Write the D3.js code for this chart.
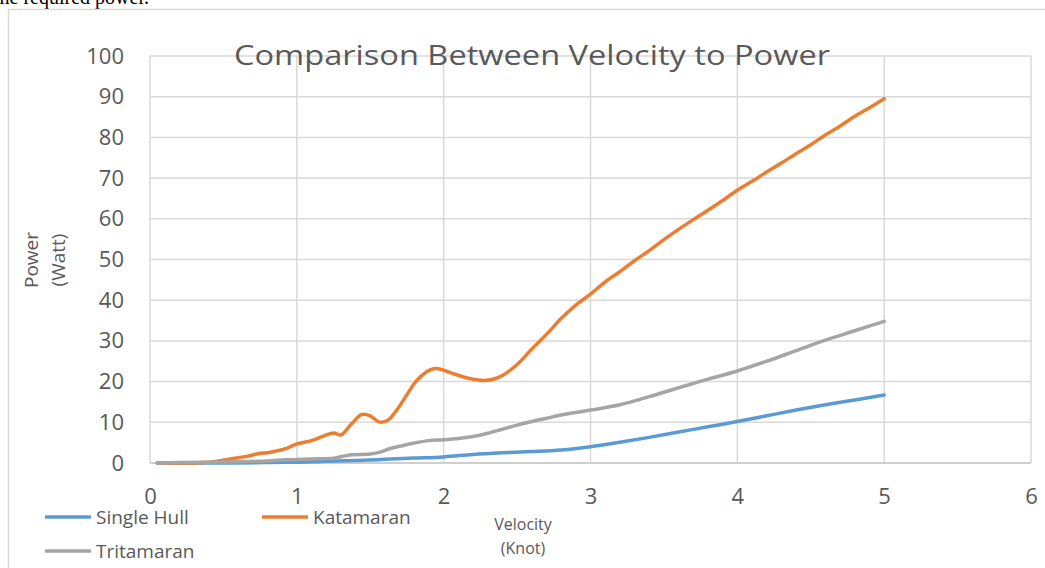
<!DOCTYPE html>
<html>
<head>
<meta charset="utf-8">
<script src="https://cdn.jsdelivr.net/npm/d3@7"></script>
<style>
  body { margin: 0; background: #fff; }
  svg { display: block; }
</style>
</head>
<body>
<svg id="chart"></svg>
<script>
// values
var hullV = [0.05, 0.4, 0.8, 1.0, 1.2, 1.4, 1.6, 1.8, 2.0, 2.2, 2.4, 2.6, 2.8, 3.0, 3.2, 3.4, 3.6, 3.8, 4.0, 4.2, 4.4, 4.6, 4.8, 5.0];
var hullP = [0, 0, 0.1, 0.2, 0.4, 0.6, 0.9, 1.2, 1.5, 2.1, 2.5, 2.8, 3.2, 4.0, 5.1, 6.3, 7.6, 8.9, 10.2, 11.6, 13.0, 14.3, 15.5, 16.7];

var kataV = [0.05, 0.2, 0.4, 0.5, 0.6, 0.68, 0.75, 0.8, 0.87, 0.93, 1.0, 1.1, 1.18, 1.25, 1.3, 1.37, 1.44, 1.5, 1.56, 1.62, 1.68, 1.75, 1.81, 1.88, 1.94, 2.0, 2.06, 2.13, 2.2, 2.27, 2.33, 2.4, 2.5, 2.6, 2.7, 2.8, 2.9, 3.0, 3.1, 3.2, 3.3, 3.4, 3.5, 3.6, 3.7, 3.8, 3.9, 4.0, 4.1, 4.2, 4.3, 4.4, 4.5, 4.6, 4.7, 4.8, 4.9, 5.0];
var kataP = [0, 0, 0.2, 0.7, 1.3, 1.8, 2.4, 2.5, 3.0, 3.6, 4.7, 5.5, 6.6, 7.4, 6.9, 9.5, 11.9, 11.6, 10.1, 10.5, 13.0, 16.8, 20.0, 22.3, 23.2, 22.8, 22.0, 21.2, 20.6, 20.3, 20.5, 21.5, 24.2, 28.0, 31.6, 35.5, 38.8, 41.5, 44.5, 47.0, 49.7, 52.2, 54.9, 57.4, 59.8, 62.1, 64.5, 67.0, 69.2, 71.5, 73.7, 76.0, 78.2, 80.6, 82.8, 85.2, 87.3, 89.5];

var triV = [0.05, 0.2, 0.4, 0.6, 0.8, 0.93, 1.1, 1.25, 1.31, 1.37, 1.5, 1.56, 1.63, 1.7, 1.8, 1.9, 2.0, 2.1, 2.2, 2.3, 2.4, 2.5, 2.6, 2.7, 2.8, 2.9, 3.0, 3.2, 3.4, 3.6, 3.8, 4.0, 4.2, 4.4, 4.6, 4.8, 5.0];
var triP = [0, 0.1, 0.2, 0.3, 0.5, 0.8, 1.0, 1.2, 1.6, 2.0, 2.2, 2.6, 3.5, 4.1, 4.9, 5.5, 5.7, 6.0, 6.5, 7.3, 8.3, 9.3, 10.2, 11.0, 11.8, 12.4, 13.0, 14.3, 16.3, 18.5, 20.6, 22.6, 25.0, 27.6, 30.2, 32.5, 34.8];

var xTicks = [0, 1, 2, 3, 4, 5, 6];
var yTicks = [0, 10, 20, 30, 40, 50, 60, 70, 80, 90, 100];

var series = [
  { name: "Single Hull", v: hullV, p: hullP, color: "#5b9bd5" },
  { name: "Katamaran", v: kataV, p: kataP, color: "#ed7d31" },
  { name: "Tritamaran", v: triV, p: triP, color: "#a5a5a5" }
];

var width = 1045, height = 568;
var font = "'Open Sans', 'Noto Sans', sans-serif";
var textColor = "#595959";

var svg = d3.select("#chart")
    .attr("width", width)
    .attr("height", height);

// bit of the document text above the chart
svg.append("text")
    .attr("x", -6)
    .attr("y", 4)
    .style("font-family", "'Liberation Serif', serif")
    .style("font-size", "20px")
    .attr("fill", "#000")
    .text("the required power.");

// chart frame
svg.append("path")
    .attr("d", "M8.5,568 V9.5 H1045")
    .attr("fill", "none")
    .attr("stroke", "#d9d9d9")
    .attr("stroke-width", 1.5);

var x = d3.scaleLinear().domain([0, 6]).range([150, 1031]);
var y = d3.scaleLinear().domain([0, 100]).range([463, 56]);

// gridlines
svg.append("g")
  .selectAll("line")
  .data(yTicks.filter(function(d) { return d > 0; }))
  .enter().append("line")
    .attr("x1", x(0)).attr("x2", x(6))
    .attr("y1", function(d) { return y(d); })
    .attr("y2", function(d) { return y(d); })
    .attr("stroke", "#d9d9d9")
    .attr("stroke-width", 1.5);

svg.append("g")
  .selectAll("line")
  .data(xTicks)
  .enter().append("line")
    .attr("x1", function(d) { return x(d); })
    .attr("x2", function(d) { return x(d); })
    .attr("y1", y(0)).attr("y2", y(100))
    .attr("stroke", "#d9d9d9")
    .attr("stroke-width", 1.5);

// x axis line
svg.append("line")
    .attr("x1", x(0)).attr("x2", x(6))
    .attr("y1", y(0)).attr("y2", y(0))
    .attr("stroke", "#bfbfbf")
    .attr("stroke-width", 1.5);

// axes (labels only)
var yAxis = d3.axisLeft(y).tickValues(yTicks).tickSize(0).tickPadding(0).tickFormat(d3.format("d"));
var gy = svg.append("g")
    .attr("transform", "translate(124,0)")
    .call(yAxis);
gy.select(".domain").remove();
gy.selectAll("text")
    .attr("fill", textColor)
    .style("font-family", font)
    .style("font-size", "22px");

var xAxis = d3.axisBottom(x).tickValues(xTicks).tickSize(0).tickPadding(0).tickFormat(d3.format("d"));
var gx = svg.append("g")
    .attr("transform", "translate(0,488)")
    .call(xAxis);
gx.select(".domain").remove();
gx.selectAll("text")
    .attr("fill", textColor)
    .style("font-family", font)
    .style("font-size", "22px");

// title
svg.append("text")
    .attr("x", 532)
    .attr("y", 65)
    .attr("text-anchor", "middle")
    .attr("fill", textColor)
    .attr("textLength", 596)
    .attr("lengthAdjust", "spacingAndGlyphs")
    .style("font-family", font)
    .style("font-size", "28px")
    .text("Comparison Between Velocity to Power");

// axis titles
var yTitle = svg.append("text")
    .attr("transform", "translate(38,260) rotate(-90)")
    .attr("text-anchor", "middle")
    .attr("fill", textColor)
    .style("font-family", font)
    .style("font-size", "19px");
yTitle.append("tspan").attr("x", 0).attr("dy", 0).text("Power");
yTitle.append("tspan").attr("x", 0).attr("dy", 27).text("(Watt)");

var xTitle = svg.append("text")
    .attr("transform", "translate(523,530)")
    .attr("text-anchor", "middle")
    .attr("fill", textColor)
    .style("font-family", font)
    .style("font-size", "16px");
xTitle.append("tspan").attr("x", 0).attr("dy", 0).text("Velocity");
xTitle.append("tspan").attr("x", 0).attr("dy", 24).text("(Knot)");

// lines
var line = d3.line()
    .x(function(d) { return x(d[0]); })
    .y(function(d) { return y(d[1]); })
    .curve(d3.curveCatmullRom.alpha(0.5));

svg.append("g")
  .selectAll("path")
  .data(series)
  .enter().append("path")
    .attr("d", function(s) { return line(d3.zip(s.v, s.p)); })
    .attr("fill", "none")
    .attr("stroke", function(s) { return s.color; })
    .attr("stroke-width", 3.5)
    .attr("stroke-linejoin", "round")
    .attr("stroke-linecap", "round");

// legend
var legendPos = [[45, 517], [262, 517], [45, 551]];
var leg = svg.append("g")
  .selectAll("g")
  .data(series)
  .enter().append("g")
    .attr("transform", function(d, i) { return "translate(" + legendPos[i][0] + "," + legendPos[i][1] + ")"; });

leg.append("line")
    .attr("x1", 0).attr("x2", 46)
    .attr("stroke", function(d) { return d.color; })
    .attr("stroke-width", 3.5);

leg.append("text")
    .attr("x", 51)
    .attr("y", 7)
    .attr("fill", textColor)
    .style("font-family", font)
    .style("font-size", "19px")
    .text(function(d) { return d.name; });
</script>
</body>
</html>
